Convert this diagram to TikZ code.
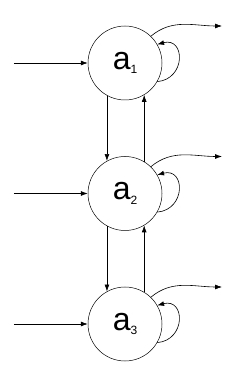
\documentclass[tikz,border=0pt]{standalone}
\usepackage{fontspec}
\setmainfont{Liberation Sans}
\usetikzlibrary{arrows.meta,positioning}
\newcommand{\stname}[1]{a\raisebox{-4.5pt}{\fontsize{12}{12}\selectfont #1}}
\tikzset{
  >={Latex[length=2.4mm,width=1.7mm]},
  state/.style={draw,circle,line width=0.5pt,minimum size=74pt,inner sep=0pt,font=\fontsize{32}{32}\selectfont},
  arr/.style={->,line width=0.6pt},
}
\begin{document}
\begin{tikzpicture}[x=1pt,y=1pt,node distance=56pt]
\useasboundingbox (0,0) rectangle (244,370);
\node[state] (a1) at (125,307) {\stname{1}};
\node[state,below=of a1] (a2) {\stname{2}};
\node[state,below=of a2] (a3) {\stname{3}};
% inputs, outputs and self loops
\foreach \s in {1,2,3}{
  \coordinate (in\s) at ([xshift=-74pt]a\s.west);
  \coordinate (out\s) at ([shift={(97pt,37pt)}]a\s.center);
  \draw[arr] (in\s) -- (a\s.west);
  \draw[arr] (a\s.46) to[out=40,in=180] (out\s);
  \draw[arr] (a\s.-30) to[out=5,in=15,looseness=2] (a\s.30);
}
% links between states
\draw[arr] (a1.-119) -- (a2.119);
\draw[arr] (a2.59) -- (a1.-59);
\draw[arr] (a2.-119) -- (a3.119);
\draw[arr] (a3.59) -- (a2.-59);
\end{tikzpicture}
\end{document}
